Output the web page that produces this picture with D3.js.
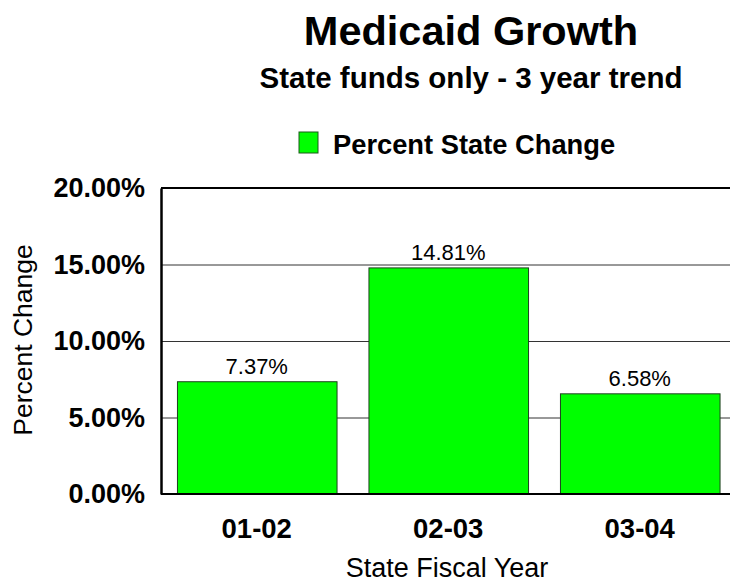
<!DOCTYPE html>
<html>
<head>
<meta charset="utf-8">
<script src="https://cdn.jsdelivr.net/npm/d3@7"></script>
<style>
  html, body { margin: 0; padding: 0; background: #fff; }
  svg { display: block; font-family: "Liberation Sans", Arial, sans-serif; }
</style>
</head>
<body>
<div id="chart"></div>
<script>
const categories = ["01-02", "02-03", "03-04"];
const values = [7.37, 14.81, 6.58];
const yTicks = [0, 5, 10, 15, 20];
const yTickLabels = ["0.00%", "5.00%", "10.00%", "15.00%", "20.00%"];
const valueLabels = ["7.37%", "14.81%", "6.58%"];
const seriesName = "Percent State Change";

(function () {
const W = 730, H = 582;
const svg = d3.select("#chart").append("svg").attr("width", W).attr("height", H);

const pLeft = 161, pRight = 735.5, pTop = 188, pBottom = 494;

const x = d3.scaleBand().domain(categories).range([pLeft, pRight])
  .paddingInner(1/6).paddingOuter(1/12);
const y = d3.scaleLinear().domain([0, 20]).range([pBottom, pTop]);

// Titles
svg.append("text").attr("x", 471).attr("y", 45).attr("text-anchor", "middle")
  .attr("font-size", 41.5).attr("font-weight", "bold").text("Medicaid Growth");
svg.append("text").attr("x", 471).attr("y", 88).attr("text-anchor", "middle")
  .attr("font-size", 29.5).attr("font-weight", "bold").text("State funds only - 3 year trend");

// Legend
svg.append("rect").attr("x", 299).attr("y", 132).attr("width", 19).attr("height", 21)
  .attr("fill", "#00ff00").attr("stroke", "#1a5a1a").attr("stroke-width", 1);
svg.append("text").attr("x", 333).attr("y", 154).attr("font-size", 27.3)
  .attr("font-weight", "bold").text(seriesName);

// Gridlines
svg.append("g").selectAll("line").data(yTicks.slice(1, -1)).join("line")
  .attr("x1", pLeft).attr("x2", pRight)
  .attr("y1", d => y(d) + 0.5).attr("y2", d => y(d) + 0.5)
  .attr("stroke", "#333").attr("stroke-width", 1);

// Bars
svg.append("g").selectAll("rect").data(values).join("rect")
  .attr("x", (d, i) => x(categories[i]) + 0.5)
  .attr("y", d => y(d) + 0.5)
  .attr("width", x.bandwidth())
  .attr("height", d => pBottom - y(d))
  .attr("fill", "#00ff00").attr("stroke", "#1f3f1f").attr("stroke-width", 1);

// Value labels
svg.append("g").selectAll("text").data(values).join("text")
  .attr("x", (d, i) => x(categories[i]) + x.bandwidth() / 2)
  .attr("y", d => y(d) - 7.5)
  .attr("text-anchor", "middle").attr("font-size", 22)
  .text((d, i) => valueLabels[i]);

// Frame: top, bottom
svg.append("line").attr("x1", pLeft).attr("x2", pRight).attr("y1", pTop).attr("y2", pTop)
  .attr("stroke", "#000").attr("stroke-width", 2);
svg.append("line").attr("x1", pLeft).attr("x2", pRight).attr("y1", pBottom).attr("y2", pBottom)
  .attr("stroke", "#000").attr("stroke-width", 2);

// Y axis
const yAxis = d3.axisLeft(y).tickValues(yTicks).tickSize(0).tickPadding(16)
  .tickFormat((d, i) => yTickLabels[i]);
const gy = svg.append("g").attr("transform", `translate(${pLeft},0)`).call(yAxis);
gy.select(".domain").attr("stroke", "#000").attr("stroke-width", 2.5);
gy.selectAll("text").attr("font-size", 27).attr("font-weight", "bold")
  .attr("font-family", "Liberation Sans, Arial, sans-serif").attr("fill", "#000");

// X axis
const xAxis = d3.axisBottom(x).tickSize(0).tickPadding(24);
const gx = svg.append("g").attr("transform", `translate(0,${pBottom})`).call(xAxis);
gx.select(".domain").remove();
gx.selectAll("text").attr("font-size", 27.5).attr("font-weight", "bold")
  .attr("font-family", "Liberation Sans, Arial, sans-serif").attr("fill", "#000");

// Axis titles
svg.append("text").attr("x", 447).attr("y", 577).attr("text-anchor", "middle")
  .attr("font-size", 27).text("State Fiscal Year");
svg.append("text").attr("transform", "translate(32,340) rotate(-90)")
  .attr("text-anchor", "middle").attr("font-size", 26.5).text("Percent Change");
})();
</script>
</body>
</html>
